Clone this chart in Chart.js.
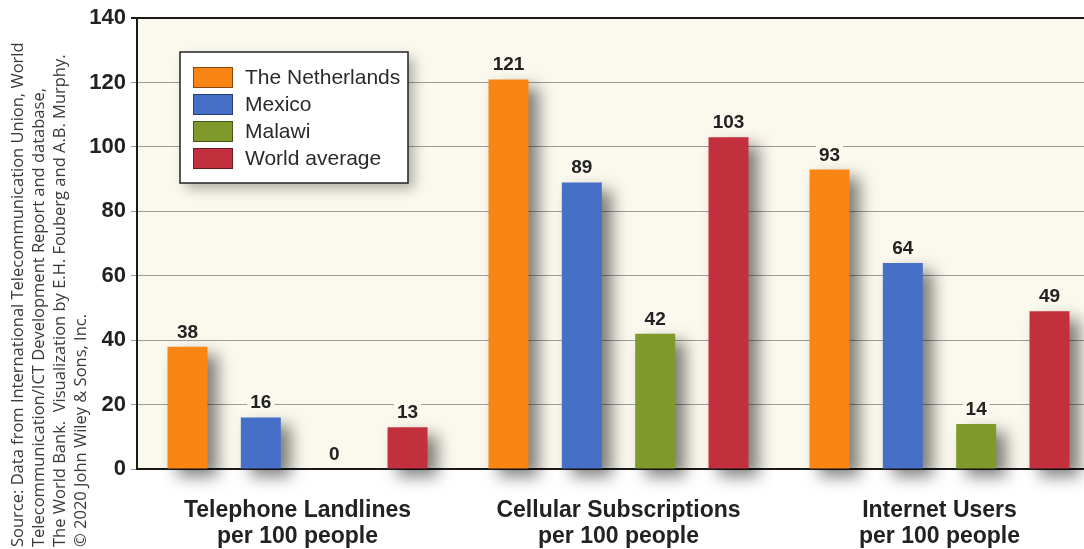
<!DOCTYPE html>
<html>
<head>
<meta charset="utf-8">
<title>Landlines, cellular subscriptions and internet users</title>
<script src="https://cdn.jsdelivr.net/npm/chart.js@4.4.1/dist/chart.umd.min.js"></script>
<style>
	html, body { margin: 0; padding: 0; background: #fff; overflow: hidden; width: 1084px; height: 549px; }
	#chart { position: absolute; left: 0; top: 0; }
	#source {
		position: absolute; left: 6px; top: 547px; width: 540px;
		transform-origin: 0 0; transform: rotate(-90deg);
		font-family: 'Open Sans', sans-serif; font-size: 16.5px; line-height: 21px;
		color: #3a3a3a; white-space: nowrap;
	}
</style>
</head>
<body>
	<canvas id="chart" width="1104" height="549"></canvas>
	<div id="source">
		<div>Source: Data from International Telecommunication Union, World</div>
		<div>Telecommunication/ICT Development Report and database,</div>
		<div>The World Bank. &nbsp;Visualization by E.H. Fouberg and A.B. Murphy.</div>
		<div>© 2020 John Wiley &amp; Sons, Inc.</div>
	</div>

	<script type="text/javascript">

		var categories = [
			['Telephone Landlines', 'per 100 people'],
			['Cellular Subscriptions', 'per 100 people'],
			['Internet Users', 'per 100 people']
		];
		var countries = ['The Netherlands', 'Mexico', 'Malawi', 'World average'];
		var netherlands = [38, 121, 93];
		var mexico = [16, 89, 64];
		var malawi = [0, 42, 14];
		var worldAverage = [13, 103, 49];
		var yMax = 140;
		var yStep = 20;

		var colors = ['#f98614', '#4670c8', '#7f9a2b', '#c2303d'];
		var plotBg = '#fbf9ee';
		var ink = '#222';
		var font = '"Liberation Sans", Arial, sans-serif';

		// cream plot background
		var plotBackground = {
			id: 'plotBackground',
			beforeDraw: function(chart) {
				var a = chart.chartArea, ctx = chart.ctx;
				ctx.save();
				ctx.fillStyle = plotBg;
				ctx.fillRect(a.left, a.top, a.right - a.left, a.bottom - a.top);
				ctx.restore();
			}
		};

		// soft drop shadow behind the bars
		var barShadow = {
			id: 'barShadow',
			beforeDatasetsDraw: function(chart) {
				var ctx = chart.ctx;
				ctx.save();
				ctx.shadowColor = 'rgba(0,0,0,0.5)';
				ctx.shadowBlur = 16;
				ctx.shadowOffsetX = 10;
				ctx.shadowOffsetY = 8;
			},
			afterDatasetsDraw: function(chart) {
				chart.ctx.restore();
			}
		};

		// numbers above the bars
		var valueLabels = {
			id: 'valueLabels',
			afterDatasetsDraw: function(chart) {
				var ctx = chart.ctx;
				ctx.save();
				ctx.font = 'bold 19px ' + font;
				ctx.textAlign = 'center';
				ctx.textBaseline = 'alphabetic';
				chart.data.datasets.forEach(function(ds, i) {
					chart.getDatasetMeta(i).data.forEach(function(bar, j) {
						var txt = String(ds.data[j]);
						var w = ctx.measureText(txt).width;
						var y = bar.y - 9;
						ctx.fillStyle = plotBg;
						ctx.fillRect(bar.x - w / 2 - 3, y - 16, w + 6, 18);
						ctx.fillStyle = ink;
						ctx.fillText(txt, bar.x, y);
					});
				});
				ctx.restore();
			}
		};

		// legend box inside the plot
		var boxLegend = {
			id: 'boxLegend',
			afterDraw: function(chart) {
				var ctx = chart.ctx;
				var x = 180, y = 52, w = 228, h = 131;
				ctx.save();
				ctx.shadowColor = 'rgba(0,0,0,0.3)';
				ctx.shadowBlur = 12;
				ctx.shadowOffsetX = 6;
				ctx.shadowOffsetY = 6;
				ctx.fillStyle = '#fff';
				ctx.fillRect(x, y, w, h);
				ctx.restore();

				ctx.save();
				ctx.strokeStyle = '#222';
				ctx.lineWidth = 1.5;
				ctx.strokeRect(x, y, w, h);
				ctx.font = '21px ' + font;
				ctx.textBaseline = 'middle';
				chart.data.datasets.forEach(function(ds, i) {
					var sy = 67 + i * 27;
					ctx.fillStyle = ds.backgroundColor;
					ctx.fillRect(193, sy, 40, 21);
					ctx.strokeStyle = 'rgba(0,0,0,0.45)';
					ctx.lineWidth = 1;
					ctx.strokeRect(193.5, sy + 0.5, 39, 20);
					ctx.fillStyle = '#2a2a2a';
					ctx.fillText(ds.label, 245, sy + 11);
				});
				ctx.restore();
			}
		};

		function makeSet(i, values) {
			return {
				label: countries[i],
				data: values,
				backgroundColor: colors[i],
				borderWidth: 0,
				categoryPercentage: 0.914,
				barPercentage: 0.545,
				clip: false
			};
		}

		var config = {
			type: 'bar',
			data: {
				labels: categories,
				datasets: [
					makeSet(0, netherlands),
					makeSet(1, mexico),
					makeSet(2, malawi),
					makeSet(3, worldAverage)
				]
			},
			options: {
				responsive: false,
				animation: false,
				layout: { padding: { top: 13, right: 4, left: 0, bottom: 0 } },
				plugins: {
					legend: { display: false },
					tooltip: { enabled: false }
				},
				scales: {
					x: {
						grid: { display: false },
						border: { display: true, color: '#1a1a1a', width: 2 },
						ticks: {
							color: ink,
							padding: 20,
							font: { family: font, size: 23, weight: 'bold', lineHeight: 1.15 },
							maxRotation: 0
						},
						afterFit: function(scale) { scale.height = 80; }
					},
					y: {
						min: 0,
						max: yMax,
						ticks: {
							stepSize: yStep,
							color: ink,
							padding: 5,
							font: { family: font, size: 22, weight: 'bold' }
						},
						grid: {
							color: function(c) { return c.tick && c.tick.value === yMax ? '#1a1a1a' : '#9c9c9c'; },
							lineWidth: function(c) { return c.tick && c.tick.value === yMax ? 2 : 1; },
							tickLength: 6
						},
						border: { display: true, color: '#1a1a1a', width: 2 },
						afterFit: function(scale) { scale.width = 137; }
					}
				}
			},
			plugins: [plotBackground, barShadow, valueLabels, boxLegend]
		};

		var ctx = document.getElementById('chart').getContext('2d');
		var chart = new Chart(ctx, config);

	</script>
</body>
</html>
